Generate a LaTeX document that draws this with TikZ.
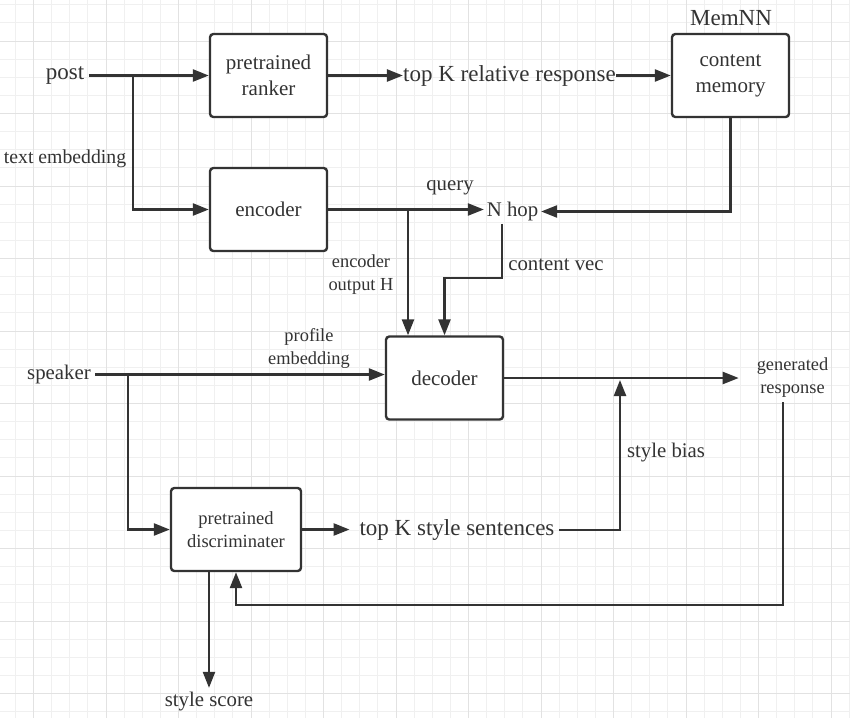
\documentclass[tikz,border=0pt]{standalone}
\usepackage{fontspec}
\setmainfont{Liberation Serif}
\usetikzlibrary{calc,arrows.meta}
\definecolor{ink}{HTML}{333333}
\definecolor{minorgrid}{HTML}{F0F0F0}
\definecolor{majorgrid}{HTML}{E2E2E2}
\tikzset{
% Node styles for the blocks and the free labels
box node/.style={rectangle,draw=ink,line width=1.8pt,rounded corners=2.5pt,fill=white,minimum width=87.75pt,minimum height=62.25pt,align=center,text=ink,font=\fontsize{15.75pt}{19.5pt}\selectfont},
big node/.style={text=ink,font=\fontsize{17.25pt}{20pt}\selectfont},
mid node/.style={text=ink,font=\fontsize{15.6pt}{19pt}\selectfont},
small node/.style={align=center,text=ink,font=\fontsize{13.8pt}{17.25pt}\selectfont},
flow/.style={draw=ink,line width=1.8pt,-{Triangle[length=12pt,width=9pt]}},
bare flow/.style={draw=ink,line width=1.8pt}
}

\begin{document}
\begin{tikzpicture}[x=0.75pt,y=-0.75pt,
    minor grid/.style={draw=minorgrid,line width=0.75pt},
    major grid/.style={draw=majorgrid,line width=0.75pt}]
\useasboundingbox (0,0) rectangle (850,718);
\fill[white] (0,0) rectangle (850,718);
\foreach \i in {0,...,46} \draw[minor grid] ({15.375+18.125*\i},0) -- ++(0,718);
\foreach \j in {0,...,39} \draw[minor grid] (0,{4.75+18.125*\j}) -- ++(850,0);
\foreach \i in {0,...,11} \draw[major grid] ({33.5+72.5*\i},0) -- ++(0,718);
\foreach \j in {0,...,9} \draw[major grid] (0,{41+72.5*\j}) -- ++(850,0);

% blocks
\node[box node] (ranker) at (268.5,75.5) {pretrained\\ranker};
\node[box node] (encoder) at (268.5,209.5) {encoder};
\node[box node] (memory) at (730.5,75.5) {content\\memory};
\node[box node] (decoder) at (444.5,378) {decoder};
\node[box node, minimum width=97.5pt, font=\fontsize{13.9pt}{17pt}\selectfont] (discrim) at (236,529.5) {pretrained\\discriminater};

% inputs, outputs and labels
\node[big node] (post) at (65,75.5) {post};
\node[big node, inner xsep=0pt] (topk) at (509.5,75.5) {top K relative response};
\node[big node] (memnn) at (731,18) {MemNN};
\node[mid node, inner sep=2pt] (nhop) at (512.5,211.5) {N hop};
\node[mid node] (speaker) at (59,374.5) {speaker};
\node[big node] (topks) at (457,530) {top K style sentences};
\node[small node] (genresp) at (792.5,377.5) {generated\\response};
\node[mid node] (stylescore) at (209,702) {style score};
\node[text=ink, font=\fontsize{14.8pt}{18pt}\selectfont] (textemb) at (65,158.5) {text embedding};
\node[mid node] (query) at (450,188) {query};
\node[small node] (encout) at (361,274.5) {encoder\\output H};
\node[mid node] (contvec) at (556,264.5) {content vec};
\node[small node] (profemb) at (309,348.5) {profile\\embedding};
\node[mid node] (stylebias) at (666,452.5) {style bias};

% turning points
\coordinate (postsplit) at (133,75.5);
\coordinate (encsplit) at (408,210);
\coordinate (hopturn) at (502,278);
\coordinate (spksplit) at (128,374.5);
\coordinate (biasjoin) at (620,380);
\coordinate (fbturn) at (783,605);

% connectors
\draw[flow] (post.east) -- (post.east -| ranker.west);
\draw[flow] (postsplit) |- (encoder.west);
\draw[flow] (ranker.east) -- (topk.west);
\draw[flow] (topk.east) -- (memory.west);
\draw[flow] (memory.south) |- (nhop.east);
\draw[flow] (encoder.east) -- (encoder.east -| nhop.west);
\draw[flow] (encsplit) -- (encsplit |- decoder.north);
\draw[flow] (hopturn |- nhop.south) -- (hopturn) -| (decoder.north);
\draw[flow] (speaker.east) -- (speaker.east -| decoder.west);
\draw[flow] (spksplit) |- (discrim.west);
\draw[flow, shorten >=10pt] (decoder.east) -- (decoder.east -| genresp.west);
\draw[flow, shorten >=4pt] (discrim.east) -- (discrim.east -| topks.west);
\draw[flow] (topks.east) -| (biasjoin);
\draw[flow] (genresp.south -| fbturn) -- (fbturn) -| (discrim.south);
\draw[flow] (discrim.south -| stylescore.north) -- (stylescore.north);
\end{tikzpicture}
\end{document}
